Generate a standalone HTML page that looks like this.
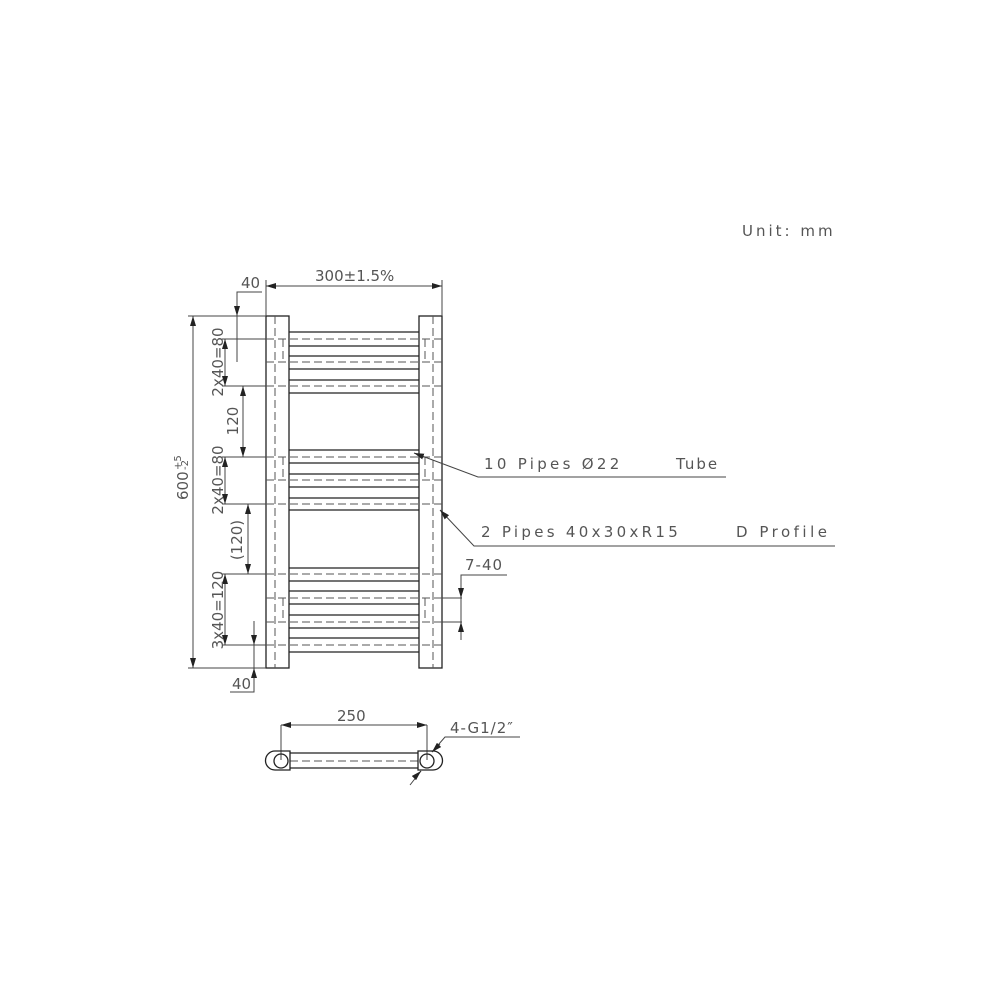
<!DOCTYPE html>
<html><head><meta charset="utf-8"><style>
html,body{margin:0;padding:0;background:#fff;}
svg{display:block}
text{font-family:"DejaVu Sans","Liberation Sans",sans-serif;fill:#555;}
</style></head><body>
<svg width="1000" height="1000" viewBox="0 0 1000 1000" xmlns="http://www.w3.org/2000/svg">
<defs>
<marker id="a" viewBox="0 0 10 6" refX="10" refY="3" markerWidth="10" markerHeight="6" markerUnits="userSpaceOnUse" orient="auto-start-reverse"><path d="M0,0 L10,3 L0,6 z" fill="#222"/></marker>
</defs>
<g stroke="#222" stroke-width="1.3" fill="none">
<rect x="266" y="316" width="23" height="352"/>
<rect x="419" y="316" width="23" height="352"/>
</g>
<g stroke="#555" stroke-width="1" stroke-dasharray="8,4" fill="none">
<line x1="275" y1="316" x2="275" y2="668"/>
<line x1="433" y1="316" x2="433" y2="668"/>
<line x1="283" y1="339" x2="283" y2="362"/>
<line x1="425" y1="339" x2="425" y2="362"/>
<line x1="283" y1="457" x2="283" y2="480"/>
<line x1="425" y1="457" x2="425" y2="480"/>
<line x1="283" y1="598" x2="283" y2="622"/>
<line x1="425" y1="598" x2="425" y2="622"/>
<line x1="266" y1="339" x2="442" y2="339"/>
<line x1="266" y1="362" x2="442" y2="362"/>
<line x1="266" y1="386" x2="442" y2="386"/>
<line x1="266" y1="457" x2="442" y2="457"/>
<line x1="266" y1="480" x2="442" y2="480"/>
<line x1="266" y1="504" x2="442" y2="504"/>
<line x1="266" y1="574" x2="442" y2="574"/>
<line x1="266" y1="598" x2="442" y2="598"/>
<line x1="266" y1="622" x2="442" y2="622"/>
<line x1="266" y1="645" x2="442" y2="645"/>
<line x1="290" y1="761" x2="418" y2="761"/>
</g>
<g stroke="#222" stroke-width="1.3">
<line x1="289" y1="332" x2="419" y2="332"/><line x1="289" y1="346" x2="419" y2="346"/>
<line x1="289" y1="356" x2="419" y2="356"/><line x1="289" y1="369" x2="419" y2="369"/>
<line x1="289" y1="380" x2="419" y2="380"/><line x1="289" y1="393" x2="419" y2="393"/>
<line x1="289" y1="450" x2="419" y2="450"/><line x1="289" y1="463" x2="419" y2="463"/>
<line x1="289" y1="474" x2="419" y2="474"/><line x1="289" y1="487" x2="419" y2="487"/>
<line x1="289" y1="498" x2="419" y2="498"/><line x1="289" y1="510" x2="419" y2="510"/>
<line x1="289" y1="568" x2="419" y2="568"/><line x1="289" y1="581" x2="419" y2="581"/>
<line x1="289" y1="591" x2="419" y2="591"/><line x1="289" y1="604" x2="419" y2="604"/>
<line x1="289" y1="615" x2="419" y2="615"/><line x1="289" y1="628" x2="419" y2="628"/>
<line x1="289" y1="638" x2="419" y2="638"/><line x1="289" y1="652" x2="419" y2="652"/>
</g>
<g stroke="#444" stroke-width="1" fill="none">
<line x1="266" y1="316" x2="266" y2="280"/>
<line x1="442" y1="316" x2="442" y2="280"/>
<line x1="266" y1="286" x2="442" y2="286" marker-start="url(#a)" marker-end="url(#a)"/>
<polyline points="262,292 237,292 237,362"/>
<line x1="237" y1="300" x2="237" y2="316" marker-end="url(#a)"/>
<line x1="237" y1="316" x2="266" y2="316"/>
<line x1="188" y1="316" x2="266" y2="316"/>
<line x1="188" y1="668" x2="266" y2="668"/>
<line x1="193" y1="316" x2="193" y2="668" marker-start="url(#a)" marker-end="url(#a)"/>
<line x1="222" y1="339" x2="266" y2="339"/>
<line x1="222" y1="386" x2="266" y2="386"/>
<line x1="225" y1="339" x2="225" y2="386" marker-start="url(#a)" marker-end="url(#a)"/>
<line x1="243" y1="386" x2="243" y2="457" marker-start="url(#a)" marker-end="url(#a)"/>
<line x1="222" y1="457" x2="266" y2="457"/>
<line x1="222" y1="504" x2="266" y2="504"/>
<line x1="225" y1="457" x2="225" y2="504" marker-start="url(#a)" marker-end="url(#a)"/>
<line x1="248" y1="504" x2="248" y2="574" marker-start="url(#a)" marker-end="url(#a)"/>
<line x1="222" y1="574" x2="266" y2="574"/>
<line x1="222" y1="645" x2="266" y2="645"/>
<line x1="225" y1="574" x2="225" y2="645" marker-start="url(#a)" marker-end="url(#a)"/>
<polyline points="230,692 254,692 254,621"/>
<line x1="254" y1="630" x2="254" y2="645" marker-end="url(#a)"/>
<line x1="254" y1="684" x2="254" y2="668" marker-end="url(#a)"/>
<polyline points="726,477 478,477 414,453" marker-end="url(#a)"/>
<polyline points="835,546 474,546 440,510" marker-end="url(#a)"/>
<polyline points="507,575 461,575 461,640"/>
<line x1="442" y1="598" x2="462" y2="598"/>
<line x1="442" y1="622" x2="462" y2="622"/>
<line x1="461" y1="585" x2="461" y2="598" marker-end="url(#a)"/>
<line x1="461" y1="635" x2="461" y2="622" marker-end="url(#a)"/>
<line x1="281" y1="725" x2="281" y2="760"/>
<line x1="427" y1="725" x2="427" y2="760"/>
<line x1="281" y1="725" x2="427" y2="725" marker-start="url(#a)" marker-end="url(#a)"/>
<polyline points="520,737 445,737 432,752" />
<line x1="440" y1="744" x2="432" y2="752" marker-end="url(#a)"/>
<line x1="410" y1="785" x2="421" y2="771"/>
<line x1="414" y1="778" x2="421" y2="771" marker-end="url(#a)"/>
</g>
<g stroke="#222" stroke-width="1.3" fill="none">
<line x1="290" y1="753" x2="418" y2="753"/>
<line x1="290" y1="768" x2="418" y2="768"/>
<path d="M290,751 L275,751 A9.5,9.5 0 0 0 275,770 L290,770 Z"/>
<path d="M418,751 L433,751 A9.5,9.5 0 0 1 433,770 L418,770 Z"/>
<circle cx="281" cy="761" r="7"/>
<circle cx="427" cy="761" r="7"/>
</g>
<g font-size="15">
<text x="742" y="236" letter-spacing="3">Unit: mm</text>
<text x="315" y="281">300±1.5%</text>
<text x="241" y="288">40</text>
<text x="232" y="689">40</text>
<text x="484" y="469" letter-spacing="3.3">10 Pipes Ø22</text>
<text x="676" y="469" letter-spacing="2">Tube</text>
<text x="481" y="537" letter-spacing="3.3">2 Pipes 40x30xR15</text>
<text x="736" y="537" letter-spacing="3.5">D Profile</text>
<text x="465" y="570" letter-spacing="1">7-40</text>
<text x="337" y="721">250</text>
<text x="450" y="733" letter-spacing="1">4-G1/2″</text>
<text transform="translate(223,362) rotate(-90)" text-anchor="middle">2x40=80</text>
<text transform="translate(238,421) rotate(-90)" text-anchor="middle">120</text>
<text transform="translate(223,480) rotate(-90)" text-anchor="middle">2x40=80</text>
<text transform="translate(242,540) rotate(-90)" text-anchor="middle">(120)</text>
<text transform="translate(223,610) rotate(-90)" text-anchor="middle">3x40=120</text>
<text transform="translate(188,500) rotate(-90)">600</text>
<text transform="translate(181,470) rotate(-90)" font-size="10">+5</text>
<text transform="translate(188,470) rotate(-90)" font-size="10">-2</text>
</g>
</svg>
</body></html>
